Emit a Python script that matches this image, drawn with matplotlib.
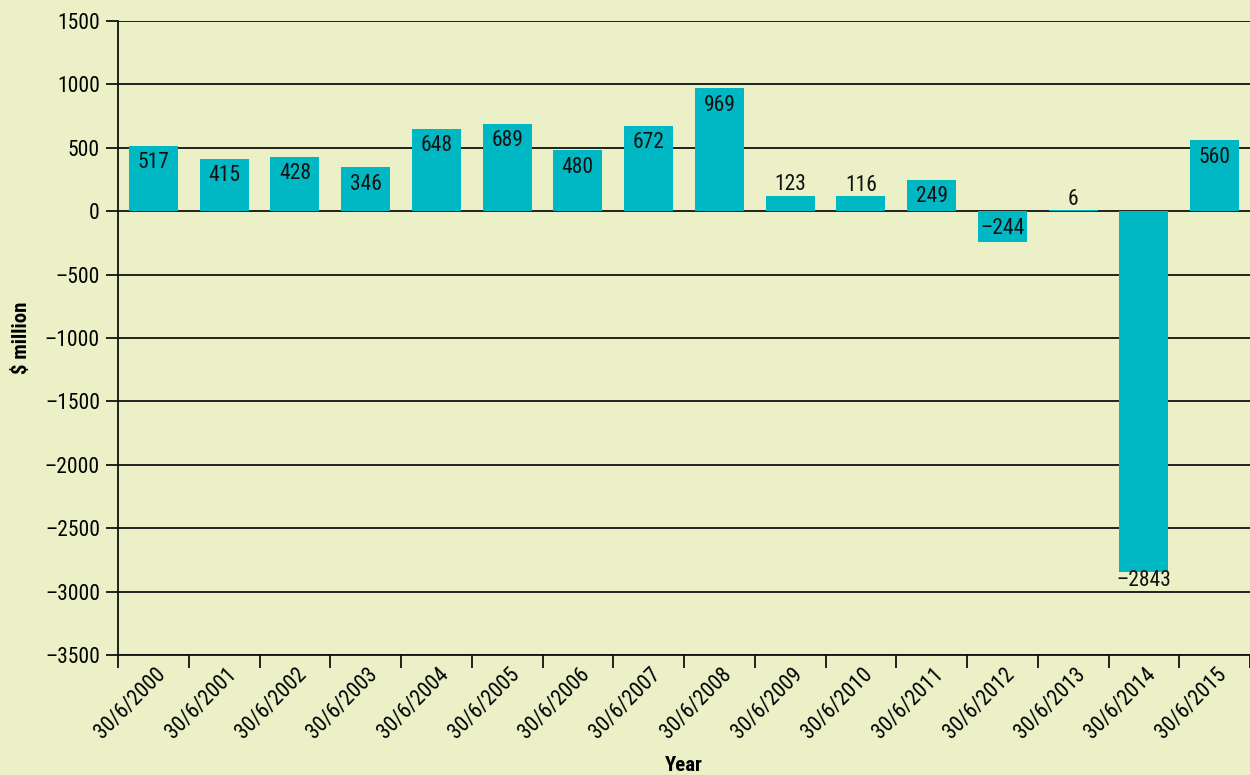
import matplotlib.pyplot as plt
import matplotlib.transforms as mtransforms
import numpy as np

years = ["30/6/2000", "30/6/2001", "30/6/2002", "30/6/2003", "30/6/2004",
         "30/6/2005", "30/6/2006", "30/6/2007", "30/6/2008", "30/6/2009",
         "30/6/2010", "30/6/2011", "30/6/2012", "30/6/2013", "30/6/2014",
         "30/6/2015"]
values = [517, 415, 428, 346, 648, 689, 480, 672, 969, 123, 116, 249, -244, 6, -2843, 560]

bg = "#ebf0c6"
bar_col = "#00b8c4"
ink = "#111111"

plt.rcParams['font.family'] = ['Roboto Condensed', 'Archivo Narrow', 'Liberation Sans', 'DejaVu Sans']

fig = plt.figure(figsize=(12.5, 7.75), dpi=100, facecolor=bg)
ax = fig.add_axes([0.0944, 0.1548, 0.9056, 0.8182])
ax.set_facecolor(bg)

x = np.arange(len(years))
ax.bar(x, values, width=0.69, color=bar_col, zorder=3)

# value labels: inside the bar end for tall bars, above for short ones,
# below the end of the deepest bar
vmin = min(values)
for xi, v in zip(x, values):
    txt = str(v).replace("-", "\u2013")
    if v == vmin:
        off = -9
    elif abs(v) < 200:
        off = 11
    elif v > 0:
        off = -17
    else:
        off = 14
    ax.annotate(txt, (xi, v), xytext=(0, off), textcoords='offset pixels',
                ha='center', va='center', fontsize=15.5, color=ink, zorder=4)

ax.set_xlim(-0.5, len(years) - 0.5)
ax.set_ylim(-3500, 1500)
yt = np.arange(-3500, 1501, 500)
ax.set_yticks(yt)
ax.set_yticklabels([str(t).replace("-", "\u2013") for t in yt], fontsize=15.5)
ax.yaxis.grid(True, color=ink, linewidth=1.3, zorder=1)

ax.set_xticks(x)
ax.set_xticklabels(years, rotation=45, ha='right', va='center',
                   rotation_mode='anchor', fontsize=15.5)
ax.set_xticks(np.arange(-0.5, len(years), 1), minor=True)
ax.tick_params(axis='x', which='major', length=0, pad=12)
ax.tick_params(axis='x', which='minor', length=9, width=1.3, color=ink)
ax.tick_params(axis='y', length=9, width=1.3, color=ink, pad=4)
shift = mtransforms.ScaledTranslation(9 / 100, 0, fig.dpi_scale_trans)
for lab in ax.get_xticklabels():
    lab.set_transform(lab.get_transform() + shift)

for s in ['top', 'right']:
    ax.spines[s].set_visible(False)
for s in ['left', 'bottom']:
    ax.spines[s].set_linewidth(1.3)
    ax.spines[s].set_color(ink)

ax.set_ylabel("$ million", fontsize=15, fontweight='bold', labelpad=10)
fig.text(0.547, 0.012, "Year", fontsize=15, fontweight='bold', ha='center', va='center')

fig.savefig("out.png", dpi=100, facecolor=bg)
